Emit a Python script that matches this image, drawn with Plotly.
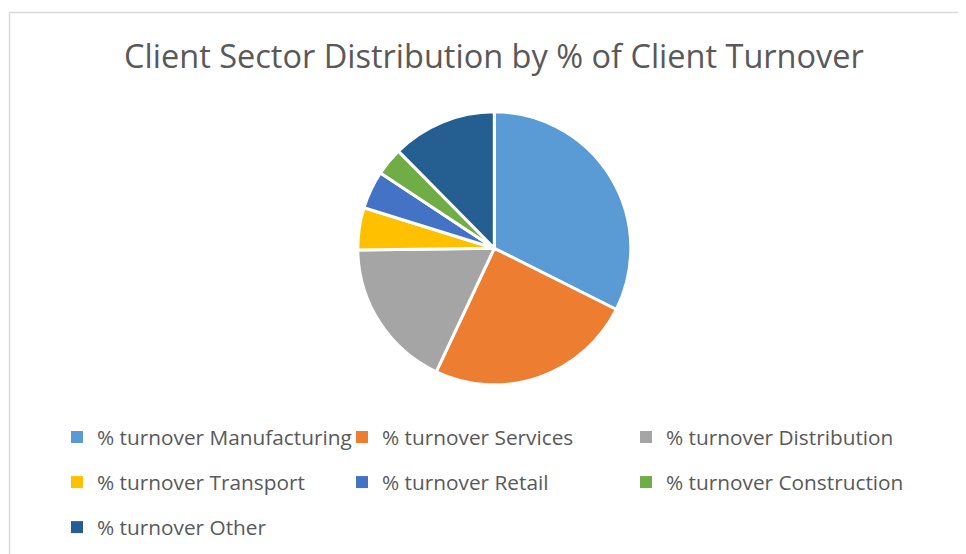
import plotly.graph_objects as go

sectors = ["% turnover Manufacturing", "% turnover Services", "% turnover Distribution",
           "% turnover Transport", "% turnover Retail", "% turnover Construction",
           "% turnover Other"]
values = [32.4, 24.6, 17.8, 5.0, 4.5, 3.3, 12.4]
colors = ["#5B9BD5", "#ED7D31", "#A5A5A5", "#FFC000", "#4472C4", "#70AD47", "#255E91"]
legend_columns = ["legend", "legend2", "legend3", "legend", "legend2", "legend3", "legend"]

# page has an 8px body margin: figure occupies page pixels 8..966, 8..554
OFF = 8
W, H = 966 - OFF, 554 - OFF


def px(xp):
    return (xp - OFF) / W


def py(yp):
    return 1 - (yp - OFF) / H


cx, cy, r = 494.3, 248.3, 136.5

fig = go.Figure()
fig.add_trace(go.Pie(
    labels=sectors, values=values, sort=False, direction="clockwise", rotation=0,
    marker=dict(colors=colors, line=dict(color="white", width=3)),
    textinfo="none", hoverinfo="label+percent", showlegend=False,
    domain=dict(x=[px(cx - r), px(cx + r)], y=[py(cy + r), py(cy - r)]),
))
for name, col, lg in zip(sectors, colors, legend_columns):
    fig.add_trace(go.Scatter(
        x=[None], y=[None], mode="markers", name=name, legend=lg, legendgroup=name,
        marker=dict(symbol="square", size=9, color=col), hoverinfo="skip",
    ))

legend_font = dict(family="Open Sans", size=20.8, color="#595959")
common = dict(orientation="v", yanchor="top", xanchor="left", font=legend_font,
              tracegroupgap=15, bgcolor="rgba(0,0,0,0)", itemsizing="constant",
              itemclick=False, itemdoubleclick=False)
ytop = py(417)
fig.update_layout(
    width=W, height=H, margin=dict(l=0, r=0, t=0, b=0),
    paper_bgcolor="white", plot_bgcolor="white",
    title=dict(text="Client Sector Distribution by % of Client Turnover",
               x=px(494), xanchor="center", y=py(57), yanchor="middle",
               font=dict(family="Open Sans", size=32.5, color="#595959")),
    xaxis=dict(visible=False), yaxis=dict(visible=False),
    legend=dict(x=px(96 - 39), y=ytop, **common),
    legend2=dict(x=px(381 - 39), y=ytop, **common),
    legend3=dict(x=px(665 - 39), y=ytop, **common),
    shapes=[dict(type="rect", xref="paper", yref="paper",
                 x0=px(9.5), x1=1.02, y0=-0.02, y1=py(12.5),
                 line=dict(color="#D9D9D9", width=1.5), fillcolor="rgba(0,0,0,0)", layer="below")],
)
fig.write_html("out.html")
